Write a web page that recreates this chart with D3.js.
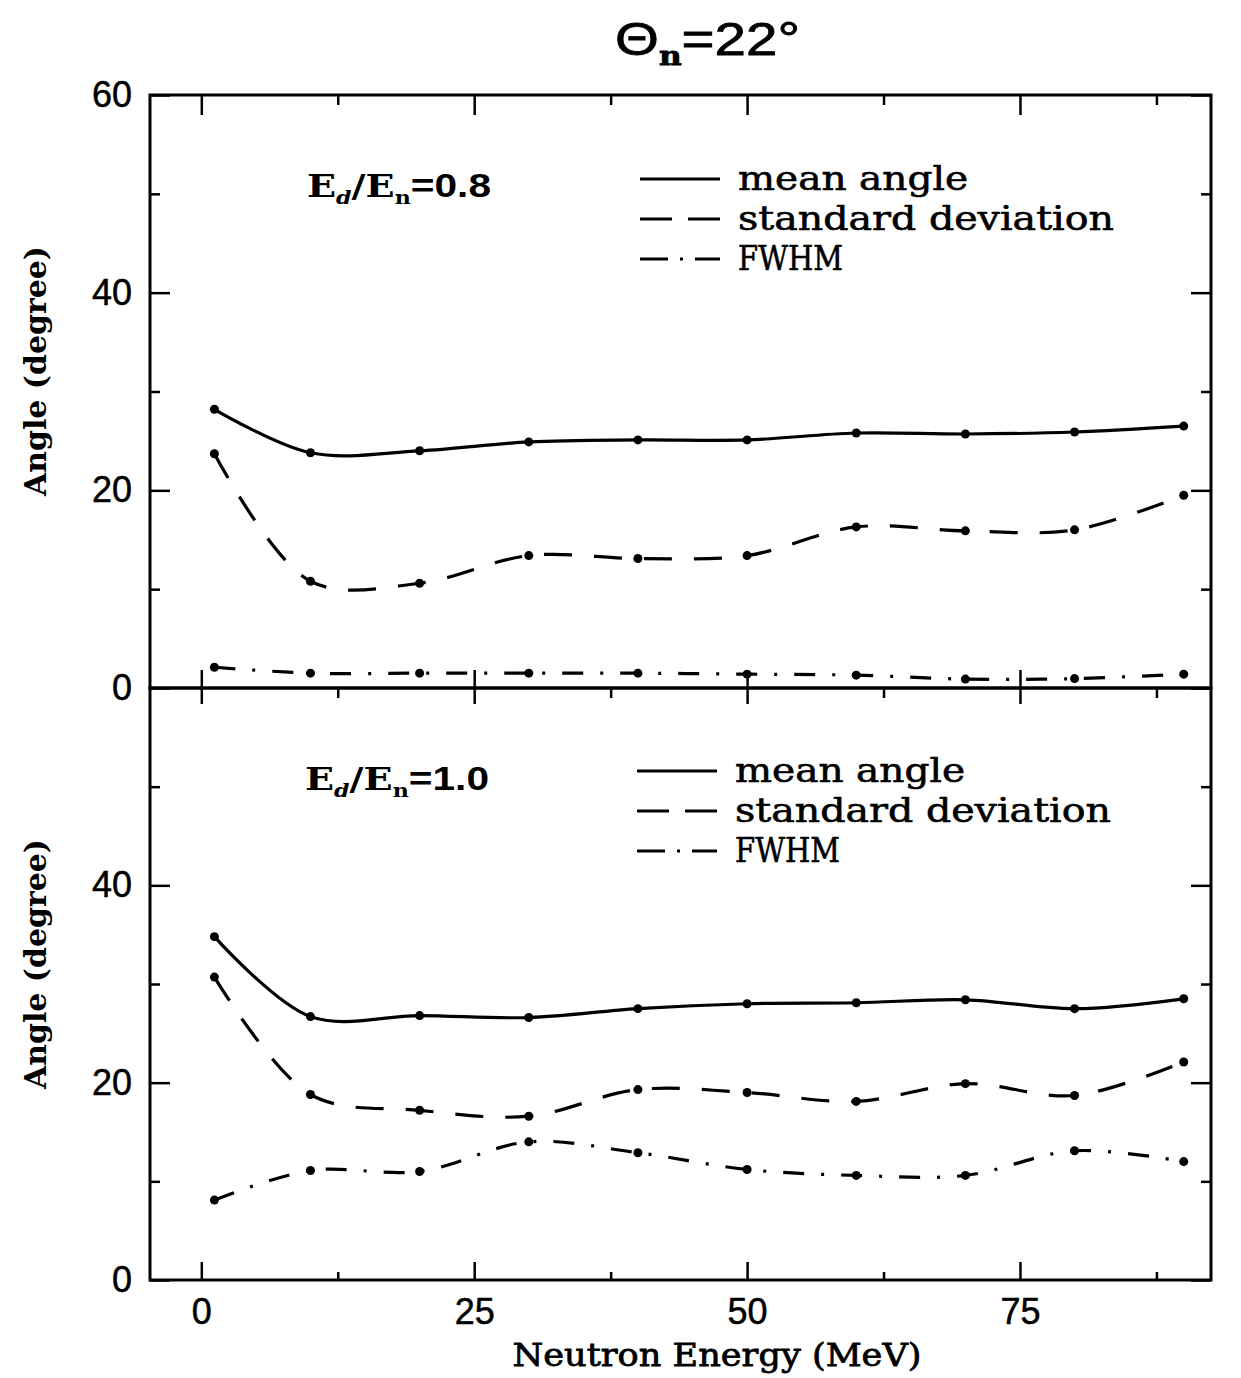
<!DOCTYPE html>
<html>
<head>
<meta charset="utf-8">
<script src="https://cdn.jsdelivr.net/npm/d3@7/dist/d3.min.js"></script>
<style>
  body { margin: 0; background: #fff; }
</style>
</head>
<body>
<svg id="chart" width="1241" height="1378"></svg>
<script>
// neutron energies (MeV) where the points were computed
let energies = [1.2, 10, 20, 30, 40, 50, 60, 70, 80, 90];

// Ed/En = 0.8
let mean08 = [28.2, 23.8, 24.0, 24.9, 25.1, 25.1, 25.8, 25.7, 25.9, 26.5];
let std08  = [23.7, 10.8, 10.6, 13.4, 13.1, 13.4, 16.3, 15.9, 16.0, 19.5];
let fwhm08 = [2.1, 1.5, 1.5, 1.5, 1.5, 1.4, 1.3, 0.9, 0.95, 1.4];

// Ed/En = 1.0
let mean10 = [34.8, 26.7, 26.8, 26.6, 27.5, 28.0, 28.1, 28.4, 27.5, 28.5];
let std10  = [30.7, 18.8, 17.2, 16.6, 19.3, 19.0, 18.1, 19.9, 18.7, 22.1];
let fwhm10 = [8.1, 11.1, 11.0, 14.0, 12.9, 11.2, 10.6, 10.6, 13.1, 12.0];

let xMajor = [0, 25, 50, 75];
let xMinor = [12.5, 37.5, 62.5, 87.5];
let yMajor = [0, 20, 40, 60];
let yMinor = [10, 30, 50];
let seriesNames = ["mean angle", "standard deviation", "FWHM"];
let dashes = [null, "28,22", "21,17,3,17"];

let plot = {left: 150, right: 1211, top: 95, mid: 688, bottom: 1280};
let serif = "'DejaVu Serif', serif";
let sans = "'Liberation Sans', Arial, sans-serif";

let svg = d3.select("#chart");
let x = d3.scaleLinear([-4.7, 92.5], [plot.left, plot.right]);

let panels = [
  {ratio: "0.8", y: d3.scaleLinear([0, 60], [plot.mid, plot.top]), labels: [0, 20, 40, 60],
   series: [mean08, std08, fwhm08], tagY: 197, legX: 640, legY: 190},
  {ratio: "1.0", y: d3.scaleLinear([0, 60], [plot.bottom, plot.mid]), labels: [0, 20, 40],
   series: [mean10, std10, fwhm10], tagY: 790, legX: 637, legY: 782}
];

function tickStyle(g){
  g.select(".domain").remove();
  g.selectAll(".tick line").attr("stroke", "#000").attr("stroke-width", 2.5);
  g.selectAll(".tick text").attr("font-family", sans).attr("font-size", 36).attr("fill", "#000")
    .attr("stroke", "#000").attr("stroke-width", 0.5);
}

panels.forEach((p, k) => {
  let y = p.y;
  let yTop = y.range()[1], yBot = y.range()[0];

  // left axis with labels
  svg.append("g").attr("transform", `translate(${plot.left},0)`)
    .call(d3.axisLeft(y).tickValues(p.labels).tickSize(-20).tickPadding(18).tickFormat(d3.format("d")))
    .call(tickStyle);
  svg.append("g").attr("transform", `translate(${plot.left},0)`)
    .call(d3.axisLeft(y).tickValues(yMinor).tickSize(-10).tickFormat(""))
    .call(tickStyle);
  // right axis
  svg.append("g").attr("transform", `translate(${plot.right},0)`)
    .call(d3.axisRight(y).tickValues(yMajor).tickSize(-20).tickFormat(""))
    .call(tickStyle);
  svg.append("g").attr("transform", `translate(${plot.right},0)`)
    .call(d3.axisRight(y).tickValues(yMinor).tickSize(-10).tickFormat(""))
    .call(tickStyle);

  // top edge ticks (pointing down into panel)
  svg.append("g").attr("transform", `translate(0,${yTop})`)
    .call(d3.axisTop(x).tickValues(xMajor).tickSize(k == 0 ? -20 : -16).tickFormat(""))
    .call(tickStyle);
  svg.append("g").attr("transform", `translate(0,${yTop})`)
    .call(d3.axisTop(x).tickValues(xMinor).tickSize(-10).tickFormat(""))
    .call(tickStyle);
  // bottom edge ticks (pointing up)
  let bottomAxis = d3.axisBottom(x).tickValues(xMajor).tickSize(-18).tickPadding(18)
  if(k == 0) bottomAxis.tickFormat("");
  svg.append("g").attr("transform", `translate(0,${yBot})`)
    .call(bottomAxis)
    .call(tickStyle);
  if(k == 1){
    svg.append("g").attr("transform", `translate(0,${yBot})`)
      .call(d3.axisBottom(x).tickValues(xMinor).tickSize(-8).tickFormat(""))
      .call(tickStyle);
  }

  // frame
  svg.append("rect")
    .attr("x", plot.left).attr("y", yTop)
    .attr("width", plot.right - plot.left).attr("height", yBot - yTop)
    .attr("fill", "none").attr("stroke", "#000").attr("stroke-width", 3);

  // curves
  let line = d3.line()
    .x((d, i) => x(energies[i]))
    .y(d => y(d))
    .curve(d3.curveCatmullRom.alpha(0.5));

  p.series.forEach((s, j) => {
    svg.append("path")
      .datum(s)
      .attr("d", line)
      .attr("fill", "none")
      .attr("stroke", "#000")
      .attr("stroke-width", 3.2)
      .attr("stroke-dasharray", dashes[j]);
    svg.append("g")
      .selectAll("circle")
      .data(s)
      .join("circle")
      .attr("cx", (d, i) => x(energies[i]))
      .attr("cy", d => y(d))
      .attr("r", 4.5)
      .attr("fill", "#000");
  });

  // panel tag Ed/En=...
  let tag = svg.append("text")
    .attr("x", 307 - 2 * k).attr("y", p.tagY)
    .attr("font-family", serif).attr("font-weight", "bold").attr("font-size", 31)
    .attr("textLength", 184).attr("lengthAdjust", "spacingAndGlyphs");
  tag.append("tspan").text("E");
  tag.append("tspan").attr("font-size", 18).attr("font-style", "italic").attr("dy", 7).text("d");
  tag.append("tspan").attr("dy", -7).text("/E");
  tag.append("tspan").attr("font-size", 18).attr("dy", 7).text("n");
  tag.append("tspan").attr("dy", -7).attr("font-family", sans).attr("font-size", 33).text("=" + p.ratio);

  // legend
  let leg = svg.append("g");
  seriesNames.forEach((name, j) => {
    let by = p.legY + j * 40;
    leg.append("line")
      .attr("x1", p.legX).attr("x2", p.legX + 80)
      .attr("y1", by - 11).attr("y2", by - 11)
      .attr("stroke", "#000").attr("stroke-width", 3)
      .attr("stroke-dasharray", j == 0 ? null : (j == 1 ? "32,16,32" : "28,12,3,12,28"));
    leg.append("text")
      .attr("x", p.legX + 98).attr("y", by)
      .attr("font-family", serif).attr("font-size", 33)
      .attr("stroke", "#000").attr("stroke-width", 0.6)
      .attr("textLength", [230, 376, 105][j]).attr("lengthAdjust", "spacingAndGlyphs")
      .text(name);
  });

  // y title
  svg.append("text")
    .attr("transform", `translate(46,${k == 0 ? 371 : 964}) rotate(-90)`)
    .attr("text-anchor", "middle")
    .attr("font-family", serif).attr("font-weight", "bold").attr("font-size", 30)
    .attr("textLength", 250).attr("lengthAdjust", "spacingAndGlyphs")
    .text("Angle (degree)");
});

// x title
svg.append("text")
  .attr("x", 717).attr("y", 1366)
  .attr("text-anchor", "middle")
  .attr("font-family", serif).attr("font-size", 32)
  .attr("stroke", "#000").attr("stroke-width", 0.8)
  .attr("textLength", 409).attr("lengthAdjust", "spacingAndGlyphs")
  .text("Neutron Energy (MeV)");

// title
let title = svg.append("text")
  .attr("x", 615).attr("y", 55)
  .attr("font-family", sans).attr("font-size", 47)
  .attr("stroke", "#000").attr("stroke-width", 0.8)
  .attr("textLength", 185).attr("lengthAdjust", "spacingAndGlyphs");
title.append("tspan").text("Θ");
title.append("tspan").attr("font-family", serif).attr("font-weight", "bold").attr("font-size", 26).attr("dy", 10).text("n");
title.append("tspan").attr("dy", -10).text("=22°");
</script>
</body>
</html>
